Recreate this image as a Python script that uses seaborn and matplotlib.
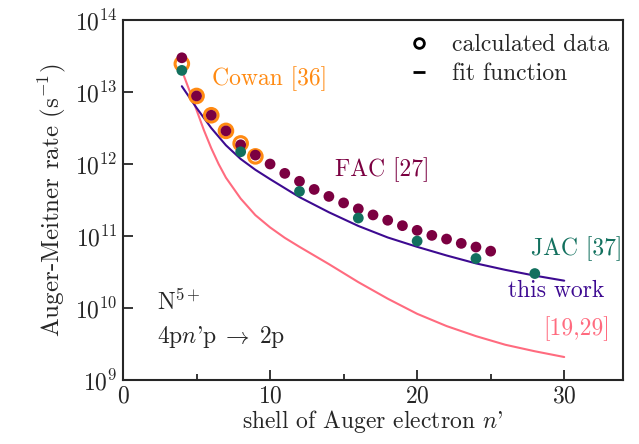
import numpy as np
import pandas as pd
import matplotlib
matplotlib.use("Agg")
import matplotlib.pyplot as plt
from matplotlib.lines import Line2D
from matplotlib.ticker import FixedLocator, NullLocator
import seaborn as sns

# values (log10 of the rate in s^-1)
fac_n = list(range(4, 26))
fac_log = [13.475, 12.945, 12.677, 12.46, 12.267, 12.124, 12.0, 11.87, 11.76, 11.647,
           11.55, 11.46, 11.377, 11.293, 11.219, 11.144, 11.079, 11.009, 10.958, 10.898,
           10.847, 10.79]
jac_n = [4, 8, 12, 16, 20, 24, 28]
jac_log = [13.30, 12.17, 11.62, 11.25, 10.93, 10.688, 10.479]
cowan_n = [4, 5, 6, 7, 8, 9]
cowan_log = [13.392, 12.945, 12.677, 12.46, 12.286, 12.106]

fit_n = [4, 5, 6, 7, 8, 9, 10, 12, 14, 16, 18, 20, 22, 24, 26, 28, 30]
fit_log = [13.08, 12.78, 12.50, 12.26, 12.07, 11.92, 11.79, 11.54, 11.33, 11.14,
           10.98, 10.85, 10.73, 10.62, 10.53, 10.45, 10.38]
ref_n = [4, 4.5, 5, 5.5, 6, 6.5, 7, 8, 9, 10, 11, 12, 13, 14, 16, 18, 20, 22, 24,
         26, 28, 30]
ref_log = [13.30, 13.03, 12.75, 12.47, 12.22, 12.00, 11.81, 11.52, 11.29, 11.12,
           10.975, 10.85, 10.73, 10.61, 10.36, 10.13, 9.92, 9.75, 9.61, 9.49, 9.40,
           9.32]

c_fac = "#7b0041"
c_jac = "#12705e"
c_cowan = "#ff8a12"
c_fit = "#3d0a91"
c_ref = "#ff6b7f"

sns.set_style("ticks")
plt.rcParams["font.family"] = ["cmr10", "DejaVu Serif"]
plt.rcParams["mathtext.fontset"] = "cm"
plt.rcParams["axes.formatter.use_mathtext"] = True
plt.rcParams["axes.unicode_minus"] = False

fac = pd.DataFrame({"n": fac_n, "rate": 10 ** np.array(fac_log)})
jac = pd.DataFrame({"n": jac_n, "rate": 10 ** np.array(jac_log)})
cowan = pd.DataFrame({"n": cowan_n, "rate": 10 ** np.array(cowan_log)})
fit = pd.DataFrame({"n": fit_n, "rate": 10 ** np.array(fit_log)})
ref = pd.DataFrame({"n": ref_n, "rate": 10 ** np.array(ref_log)})

fig = plt.figure(figsize=(6.39, 4.44), dpi=100)
ax = fig.add_axes([0.1925, 0.144, 0.7825, 0.811])

sns.lineplot(data=ref, x="n", y="rate", ax=ax, color=c_ref, lw=1.5, zorder=2)
sns.lineplot(data=fit, x="n", y="rate", ax=ax, color=c_fit, lw=1.5, zorder=2)
ax.scatter(cowan["n"], cowan["rate"], s=95, facecolors="none", edgecolors=c_cowan,
           linewidths=2.2, zorder=3)
sns.scatterplot(data=fac, x="n", y="rate", ax=ax, color=c_fac, s=60,
                edgecolor="none", zorder=4)
sns.scatterplot(data=jac, x="n", y="rate", ax=ax, color=c_jac, s=60,
                edgecolor="none", zorder=5)

ax.set_yscale("log")
ax.set_xlim(0, 34)
ax.set_ylim(1e9, 1e14)
ax.yaxis.set_major_locator(FixedLocator([1e9, 1e10, 1e11, 1e12, 1e13, 1e14]))
ax.yaxis.set_minor_locator(NullLocator())
ax.xaxis.set_major_locator(FixedLocator([0, 10, 20, 30]))
ax.xaxis.set_minor_locator(FixedLocator([5, 15, 25]))
ax.tick_params(which="major", direction="in", length=7, width=1.3, labelsize=17, pad=4)
ax.tick_params(which="minor", direction="in", length=4, width=1.3)
for sp in ax.spines.values():
    sp.set_linewidth(1.5)

fs = 17
ax.set_xlabel("shell of Auger electron $n$'", fontsize=fs, labelpad=0)
ax.set_ylabel("Auger-Meitner rate (s$^{\\mathregular{-1}}$)", fontsize=18, labelpad=5)

ax.text(6.05, 10 ** 13.19, "Cowan [36]", color=c_cowan, fontsize=fs, va="center")
ax.text(14.42, 10 ** 11.92, "FAC [27]", color=c_fac, fontsize=fs, va="center")
ax.text(27.74, 10 ** 10.82, "JAC [37]", color=c_jac, fontsize=fs, va="center")
ax.text(26.18, 10 ** 10.24, "this work", color=c_fit, fontsize=fs, va="center")
ax.text(28.56, 10 ** 9.71, "[19,29]", color=c_ref, fontsize=fs, va="center")
ax.text(0.068, 0.217, "N$^{5+}$", transform=ax.transAxes, fontsize=fs, va="center")
ax.text(0.068, 0.12, "4p$n$'p$\\;\\rightarrow\\;$2p", transform=ax.transAxes,
        fontsize=fs, va="center")

handles = [Line2D([], [], ls="none", marker="o", mfc="none", mec="black", mew=2, ms=7),
           Line2D([], [], ls="none", marker="_", color="black", mew=2, ms=9)]
ax.legend(handles, ["calculated data", "fit function"], loc="upper right",
          frameon=False, fontsize=fs, handlelength=1.2, handletextpad=0.8,
          borderaxespad=0.2, labelspacing=0.3)

fig.savefig("out.png", dpi=100)
